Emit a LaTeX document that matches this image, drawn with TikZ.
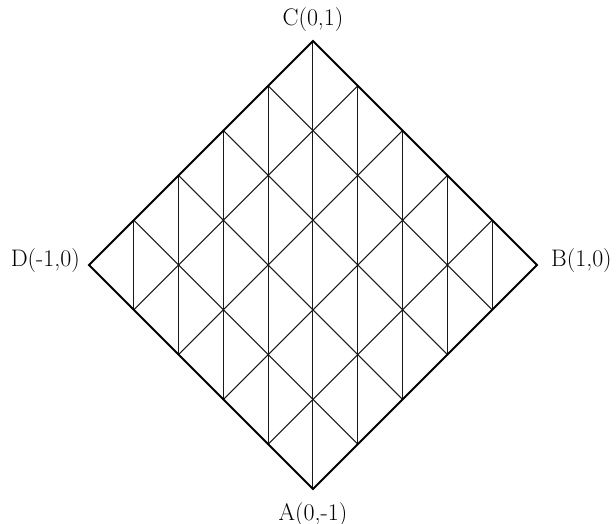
\documentclass[tikz,border=0pt]{standalone}
\begin{document}
\begin{tikzpicture}[x=224bp,y=224bp,
  gridline/.style={line width=1bp,black!90},
  borderline/.style={line width=1.8bp,black,line join=miter},
  lab/.style={inner sep=0pt,font=\fontsize{24}{29}\selectfont}]
\useasboundingbox (-313/224,-259/224) rectangle (303/224,265/224);
\coordinate (C) at (0,1);
\coordinate (B) at (1,0);
\coordinate (A) at (0,-1);
\coordinate (D) at (-1,0);
% diagonal grid lines
\foreach \c in {-0.6,-0.2,0.2,0.6}{
  \draw[gridline] ({((\c)-1)/2},{((\c)+1)/2}) -- ({((\c)+1)/2},{((\c)-1)/2});
  \draw[gridline] ({((\c)-1)/2},{(-1-(\c))/2}) -- ({(1+(\c))/2},{(1-(\c))/2});
}
% vertical diagonals of each cell
\foreach \a in {-0.8,-0.4,0,0.4,0.8}{
  \foreach \b in {-0.8,-0.4,0,0.4,0.8}{
    \draw[gridline] ({((\a)+(\b))/2},{((\a)-(\b))/2-0.2}) -- ++(0,0.4);
  }
}
\draw[borderline] (A) -- (B) -- (C) -- (D) -- cycle;
\node[lab,above=9bp] (lC) at (C) {C(0,1)};
\node[lab,right=14bp,yshift=4bp] (lB) at (B) {B(1,0)};
\node[lab,below=13bp] (lA) at (A) {A(0,-1)};
\node[lab,left=9bp,yshift=4bp] (lD) at (D) {D(-1,0)};
\end{tikzpicture}
\end{document}
